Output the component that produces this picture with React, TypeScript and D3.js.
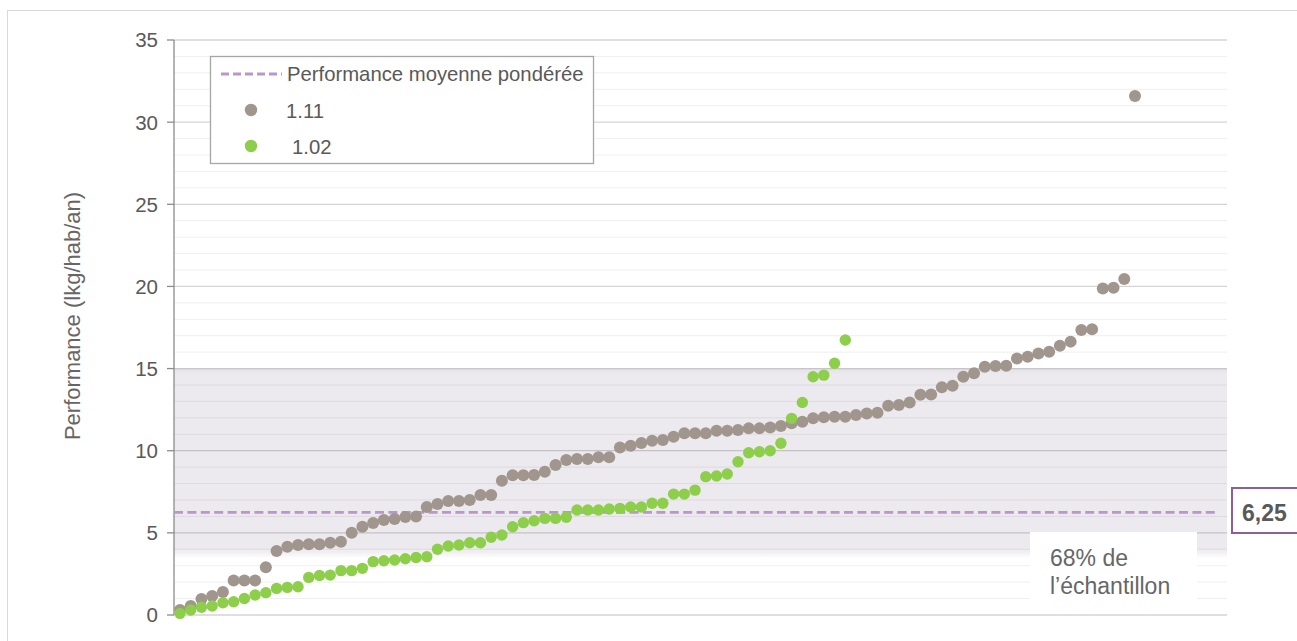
import React from "react";
import * as d3 from "d3";

// ---- data ----
const series111: number[] = [
  0.3, 0.55, 0.97, 1.15, 1.4, 2.1, 2.1, 2.1, 2.9, 3.9,
  4.15, 4.26, 4.3, 4.3, 4.4, 4.46, 5.0, 5.37, 5.6, 5.78,
  5.84, 5.97, 6.0, 6.57, 6.76, 6.94, 6.94, 7.0, 7.3, 7.3,
  8.17, 8.5, 8.5, 8.52, 8.72, 9.13, 9.43, 9.5, 9.5, 9.6,
  9.6, 10.2, 10.3, 10.47, 10.6, 10.65, 10.85, 11.06, 11.06, 11.06,
  11.22, 11.22, 11.26, 11.36, 11.36, 11.42, 11.5, 11.67, 11.77, 11.97,
  12.03, 12.07, 12.07, 12.17, 12.27, 12.31, 12.74, 12.78, 12.94, 13.4,
  13.42, 13.86, 13.96, 14.5, 14.71, 15.11, 15.15, 15.17, 15.62, 15.72,
  15.92, 16.03, 16.39, 16.64, 17.35, 17.39, 19.88, 19.92, 20.45, 31.59,
];
const series102: number[] = [
  0.1, 0.3, 0.47, 0.55, 0.75, 0.81, 1.0, 1.22, 1.36, 1.62,
  1.68, 1.72, 2.29, 2.4, 2.43, 2.7, 2.7, 2.84, 3.25, 3.3,
  3.35, 3.42, 3.5, 3.55, 4.0, 4.2, 4.26, 4.4, 4.4, 4.73,
  4.87, 5.37, 5.62, 5.74, 5.88, 5.88, 5.95, 6.39, 6.39, 6.39,
  6.45, 6.49, 6.57, 6.57, 6.8, 6.8, 7.36, 7.36, 7.6, 8.42,
  8.46, 8.58, 9.33, 9.88, 9.94, 10.0, 10.45, 11.97, 12.94, 14.5,
  14.6, 15.32, 16.74,
];
const yTicks: number[] = [0, 5, 10, 15, 20, 25, 30, 35];
const meanValue = 6.25;
const meanLabel = "6,25";
const bandRange: [number, number] = [3.75, 15];
const legendLabels = ["Performance moyenne pondérée", "1.11", "1.02"];
const yTitle = "Performance (lkg/hab/an)";
const bandNote = ["68% de", "l\u2019échantillon"];

// ---- layout ----
const W = 1297;
const H = 641;
const left = 174;
const right = 1227;
const FONT = "'Liberation Sans', Arial, Helvetica, sans-serif";
const TXT = "#595959";
const GRAY = "#A0968D";
const GREEN = "#8DCE4A";
const PURPLE_DASH = "#B997CA";

export default function App() {
  const y = d3.scaleLinear().domain([0, 35]).range([615, 40]);
  const x = d3.scaleLinear().domain([0, 89]).range([180, 1135]);
  const grid = d3.range(0, 36);
  const bandTop = y(bandRange[1]);
  const bandBottom = y(bandRange[0]);

  return (
    <svg
      width={W}
      height={H}
      style={{ position: "absolute", left: 0, top: 0, background: "#fff" }}
      fontFamily={FONT}
    >
      <defs>
        <linearGradient id="fadeB" x1="0" y1="0" x2="0" y2="1">
          <stop offset="0" stopColor="#ECEAEE" stopOpacity={1} />
          <stop offset="1" stopColor="#ECEAEE" stopOpacity={0} />
        </linearGradient>
        <linearGradient id="fadeT" x1="0" y1="0" x2="0" y2="1">
          <stop offset="0" stopColor="#E5E2E8" stopOpacity={1} />
          <stop offset="1" stopColor="#ECEAEE" stopOpacity={1} />
        </linearGradient>
      </defs>
      {/* outer frame */}
      <rect x={7.5} y={10.5} width={1400} height={800} fill="none" stroke="#D9D9D9" strokeWidth={1} />

      {/* band */}
      <rect x={left} y={bandTop} width={right - left} height={bandBottom - bandTop - 3} fill="#ECEAEE" />
      <rect x={left} y={bandTop} width={right - left} height={6} fill="url(#fadeT)" />
      <rect x={left} y={bandBottom - 3} width={right - left} height={8} fill="url(#fadeB)" />

      {/* gridlines */}
      {grid.map((v) => (
        <line
          key={v}
          x1={left}
          x2={right}
          y1={y(v)}
          y2={y(v)}
          stroke="#000"
          strokeOpacity={v % 5 === 0 ? 0.17 : 0.065}
          strokeWidth={v % 5 === 0 ? 1.3 : 1}
        />
      ))}

      {/* axis */}
      <line x1={left} x2={left} y1={y(35)} y2={y(0)} stroke="#8C8C8C" strokeWidth={1.3} />
      {yTicks.map((t) => (
        <g key={t}>
          <line x1={left - 7} x2={left} y1={y(t)} y2={y(t)} stroke="#8C8C8C" strokeWidth={1.3} />
          <text x={158} y={y(t)} dy="0.36em" textAnchor="end" fontSize={20.5} fill={TXT}>
            {t}
          </text>
        </g>
      ))}
      <text
        transform={`translate(80,${316}) rotate(-90)`}
        textAnchor="middle"
        fontSize={22}
        fill="#666"
      >
        {yTitle}
      </text>

      {/* mean line */}
      <line
        x1={left}
        x2={1219}
        y1={y(meanValue)}
        y2={y(meanValue)}
        stroke={PURPLE_DASH}
        strokeWidth={2.8}
        strokeDasharray="9,4.4"
      />

      {/* points */}
      {series111.map((v, i) => (
        <circle key={"g" + i} cx={x(i)} cy={y(v)} r={6} fill={GRAY} />
      ))}
      {series102.map((v, i) => (
        <circle key={"v" + i} cx={x(i)} cy={y(v)} r={5.7} fill={GREEN} />
      ))}

      {/* legend */}
      <rect x={210.5} y={56.5} width={383} height={107} fill="#fff" stroke="#A6A6A6" strokeWidth={1.3} />
      <line x1={221} x2={282} y1={74} y2={74} stroke={PURPLE_DASH} strokeWidth={2.8} strokeDasharray="8,4" />
      <text x={287} y={81} fontSize={20.3} fill={TXT}>
        {legendLabels[0]}
      </text>
      <circle cx={251} cy={110} r={6.2} fill={GRAY} />
      <text x={286} y={117.5} fontSize={20.3} fill={TXT}>
        {legendLabels[1]}
      </text>
      <circle cx={251} cy={146} r={6.2} fill={GREEN} />
      <text x={292} y={154} fontSize={20.3} fill={TXT}>
        {legendLabels[2]}
      </text>

      {/* mean label */}
      <rect x={1232} y={488} width={70} height={45} fill="#fff" stroke="#8C5F96" strokeWidth={2} />
      <text x={1242} y={520.5} fontSize={23} fontWeight="bold" fill={TXT}>
        {meanLabel}
      </text>

      {/* sample note */}
      <rect x={1030} y={532} width={167} height={68} fill="#fff" />
      <text x={1050} y={566} fontSize={23} fill="#666">
        {bandNote[0]}
      </text>
      <text x={1050} y={594} fontSize={23} fill="#666">
        {bandNote[1]}
      </text>
    </svg>
  );
}
